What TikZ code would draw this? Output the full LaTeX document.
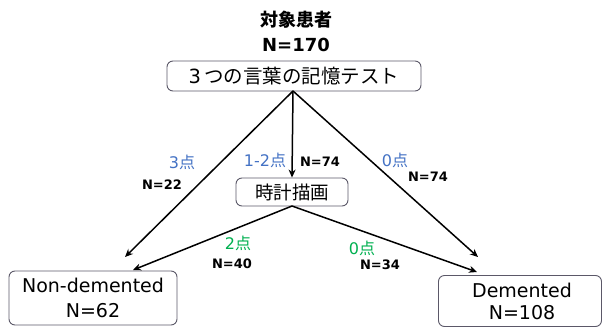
\documentclass[tikz,border=0pt]{standalone}
\usepackage{fontspec}
\setmainfont{DejaVu Sans}
\newfontfamily\jp{Noto Sans CJK JP}
\usetikzlibrary{arrows.meta}
\definecolor{bluelab}{HTML}{4472C4}
\definecolor{greenlab}{HTML}{00B050}
\definecolor{boxline}{HTML}{5B5868}
\tikzset{
  rbox/.style={draw=boxline, line width=0.9pt, rounded corners=6pt, inner sep=0pt},
  conn/.style={line width=1.5pt, -{Stealth[length=8pt,width=7pt]}},
  nlab/.style={font=\fontsize{13}{15}\selectfont\bfseries, inner sep=0pt},
  blab/.style={text=bluelab, font=\fontsize{16}{18}\selectfont, inner sep=0pt},
  glab/.style={text=greenlab, font=\fontsize{16}{18}\selectfont, inner sep=0pt},
  big/.style={font=\fontsize{19}{22}\selectfont, inner sep=0pt, align=center},
  ttl/.style={font=\fontsize{18}{22}\selectfont\bfseries, inner sep=0pt, align=center},
}
\begin{document}
\begin{tikzpicture}[x=1pt,y=-1pt]
\useasboundingbox (0,0) rectangle (603,327);
% title
\node[ttl] (title) at (296,20) {\jp\bfseries 対象患者};
\node[ttl] (tn) at (296,45) {N=170};
% boxes
\node[rbox, minimum width=254pt, minimum height=30pt] (memory) at (294,76) {};
\node[big, font=\fontsize{19.5}{22}\selectfont] (memtxt) at (294,76) {3\,{\jp つの言葉の記憶テスト}};
\node[rbox, minimum width=112pt, minimum height=28pt] (clock) at (292,192) {};
\node[big, font=\fontsize{18.5}{22}\selectfont] (clocktxt) at (292,192) {\jp 時計描画};
\node[rbox, minimum width=168pt, minimum height=54pt] (non) at (93,298) {};
\node[big] (nontxt) at (93,285) {Non-demented};
\node[big] (nonn) at (93,311) {N=62};
\node[rbox, minimum width=163pt, minimum height=51pt] (dem) at (520,301) {};
\node[big] (demtxt) at (522,290) {Demented};
\node[big] (demn) at (522,313) {N=108};
% connector anchor points
\coordinate (m) at (293,91);
\coordinate (c) at (292,206);
\coordinate (endL) at (125,257);
\coordinate (endR) at (478,257);
\coordinate (endCL) at (133,270);
\coordinate (endCR) at (477,272);
\draw[conn] (m) -- (endL);
\draw[conn] (m) -- (clock.north);
\draw[conn] (m) -- (endR);
\draw[conn] (c) -- (endCL);
\draw[conn] (c) -- (endCR);
% labels
\node[blab] (l3) at (182,162) {3{\jp 点}};
\node[nlab] (n22) at (162,185) {N=22};
\node[blab] (l12) at (265,160) {1-2{\jp 点}};
\node[nlab] (n74a) at (320,162) {N=74};
\node[blab] (l0) at (395,160) {0{\jp 点}};
\node[nlab] (n74b) at (428,177) {N=74};
\node[glab] (l2) at (238,243) {2{\jp 点}};
\node[nlab] (n40) at (232,264) {N=40};
\node[glab] (l0b) at (362,248) {0{\jp 点}};
\node[nlab] (n34) at (380,265) {N=34};
\end{tikzpicture}
\end{document}
